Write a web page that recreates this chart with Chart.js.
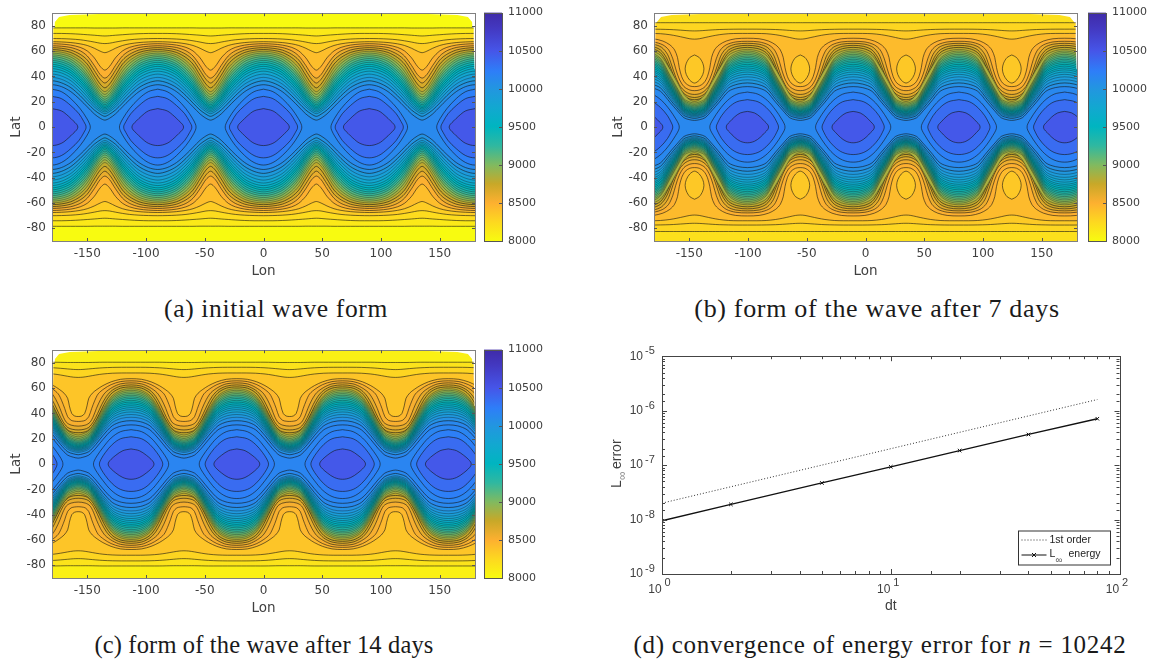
<!DOCTYPE html>
<html>
<head>
<meta charset="utf-8">
<script src="https://cdn.jsdelivr.net/npm/chart.js@4/dist/chart.umd.min.js"></script>
<style>
html,body{margin:0;padding:0;background:#fff;width:1155px;height:664px;overflow:hidden}
canvas{position:absolute}
.cap{position:absolute;transform:translate(-50%,-50%);font-family:"Liberation Serif",serif;color:#1a1a1a;white-space:nowrap}
</style>
</head>
<body>
<div class="cap" style="left:276px;top:309px;font-size:25.5px;letter-spacing:.65px">(a) initial wave form</div>
<div class="cap" style="left:877px;top:309px;font-size:26px;letter-spacing:.68px">(b) form of the wave after 7 days</div>
<div class="cap" style="left:264px;top:645px;font-size:24.5px;letter-spacing:.15px">(c) form of the wave after 14 days</div>
<div class="cap" style="left:880px;top:645px;font-size:25px;letter-spacing:.73px">(d) convergence of energy error for <i>n</i> = 10242</div>
<script>
// ---- axis ticks
const lonTicks = [-150,-100,-50,0,50,100,150];
const latTicks = [-80,-60,-40,-20,0,20,40,60,80];

// ---- colour map of the colour bar
const cmapLevels = [8000,8250,8500,8750,9000,9250,9500,9750,10000,10230,10500,10800,11000];
const cmapColors = ['#f8fb10','#fdd820','#fdb030','#c8a828','#80ba60','#30b8a0','#00b5c0','#12a8d0','#2296e0','#2e7ef8','#4655e8','#4338c0','#3f2ba8'];

// ---- contour sample longitudes, distance from a ridge centre to the next trough
const dxGrid = [0,8,16,24,30,36,41,45];

// ---- panel (a): initial wave form
const aRidge = -90;
const aBase = 8000;
const aLevels = [8130,8225,8320,8415,8505,8595,8685,8775,8865,8955,9045,9135,9225,9315,9405,9495,9585,9675,9765,9855,9945,10035,10125,10220,10350,10480];
const aOpen = [
 [78.4,78.4,78.4,78.4,78.4,78.3,78.3,78.3],
 [74,74,73.8,73.4,73,72.6,72.2,72],
 [70,69.9,69.6,69,68.2,67.2,66.3,66],
 [67.5,67.3,66.8,65.8,64.5,62.3,60,58.8],
 [65.9,65.6,64.8,63,60.2,54.7,48,45],
 [64.3,63.9,62.9,60.3,56.2,48.7,41.5,38.7],
 [62.8,62.3,60.9,57.5,53,44.8,37.8,34.8],
 [61.3,60.7,59,55,49.8,41,34,31],
 [59.9,59.2,57.1,52.5,46.8,37.8,30.8,28],
 [58.5,57.7,55.4,50.3,44,35.2,28.6,25.8],
 [57.1,56.2,53.6,48,41.5,33,26.4,23.8],
 [55.7,54.7,51.9,46,39.6,31,24.5,22],
 [54.2,53.1,50,44,37.6,29,22.8,20.4],
 [52.7,51.5,48.4,42,35.6,27.2,21.3,19],
 [51.2,49.9,46.6,40,33.6,25.4,20,17.7],
 [49.6,48.2,44.8,38.2,31.8,23.8,18.7,16.5],
 [48,46.6,43,36.3,30,22.3,17.5,15.4],
 [46.2,44.8,41.2,34.4,28.2,20.8,16.3,14.3],
 [44.2,42.8,39,32.4,26.2,19.3,15,13.2],
 [41.9,40.4,36.7,30,24,17.6,13.7,12],
 [39.3,37.8,34,27.6,21.6,15.9,12.3,10.6],
 [36.6,35,31.2,24.8,19,13.5,10.2,8.5],
 [33.5,32,28,21.6,16,10.4,7,5.5]
];
const aClosed = [
 [[0,30],[8,28],[16,22.5],[24,14.5],[29.5,7],[32,2.5],[32.6,0]],
 [[0,24.3],[8,22.5],[16,17],[23,10.5],[27,4.5],[28.6,1.8],[29,0]],
 [[0,14.6],[8,12.8],[14,8.6],[18,5],[21,2.2],[22,0]]
];

// ---- panel (b): after 7 days
const bRidge = -100.5;
const bBase = 8190;
const bLevels = [8260,8340,8430,8500,8571,8642,8713,8784,8855,8926,8997,9068,9139,9210,9281,9352,9423,9494,9565,9636,9707,9778,9849,9920,9991,10062,10133,10220,10350,10480];
const bOpen = [
 [82.5,82.5,82.5,82.5,82.5,82.5,82.5,82.5],
 [77.4,77.4,77.3,77.1,76.8,76.4,76.1,76],
 [74,74,73.8,73,72,70.8,69.8,69.5],
 [[0,70.2],[10,69.8],[18,68],[24,65],[28,61],[30.5,55],[32,47],[34,40],[37,35],[41,32.5],[45,32]],
 [[0,67.8],[10,67.3],[18,65],[23,61],[26.5,54],[29,46],[32,38],[36,32],[41,29.3],[45,28.8]],
 [[0,66.2],[10,65.5],[17,63],[22,57.5],[25.5,49],[29,39.5],[33,32],[37,28.2],[41,26.3],[45,25.8]],
 [[0,64.6],[9,63.8],[16,61],[21,55],[25,46],[29,36.5],[33,29.5],[37,25.8],[41,24],[45,23.4]],
 [[0,63],[9,62],[16,58.8],[21,52],[25,43],[29,34],[33,27.2],[37,24],[41,22.2],[45,21.6]],
 [61.4,60.4,56.8,46,36,26,21.5,20.2],
 [60.1,58.9,54.3,41.2,31.3,22.3,19.8,19],
 [58.8,57.6,53.1,40,30.2,21.2,18.7,17.9],
 [57.5,56.3,51.8,38.8,29,20.2,17.7,16.9],
 [56.2,55,50.6,37.7,28,19.2,16.8,16],
 [54.9,53.7,49.3,36.6,27.1,18.4,16,15.2],
 [53.6,52.4,48.1,35.6,26.2,17.5,15.2,14.4],
 [52.3,51.1,46.9,34.5,25.3,16.8,14.5,13.7],
 [51,49.9,45.7,33.5,24.4,16,13.8,13],
 [49.6,48.5,44.4,32.5,23.6,15.4,13.1,12.4],
 [48.2,47.1,43.1,31.5,22.7,14.7,12.5,11.8],
 [46.7,45.6,41.7,30.4,21.8,14.1,11.9,11.2],
 [45.2,44.2,40.4,29.3,20.9,13.4,11.3,10.6],
 [43.5,42.5,38.8,28,20,12.7,10.7,10],
 [41.7,40.7,37.2,26.8,19,12,10,9.4],
 [39.7,38.8,35.4,25.5,18,11.3,9.4,8.8],
 [37.4,36.5,33.3,23.9,16.8,10.4,8.6,8],
 [34.9,34,31,22,15.3,9.2,7.5,6.9],
 [32,31.2,28.3,19.7,13.3,7.4,5.8,5.3]
];
const bClosed = [
 [[0,27.7],[9,26],[17,21],[24,13.5],[29,6.5],[31.4,2.5],[32,0]],
 [[0,21.7],[9,20],[16,15.5],[22,9],[25,4],[26.2,1.6],[26.5,0]],
 [[0,12.4],[6,11.2],[11,8],[15,4.2],[17.4,1.8],[18,0]]
];
const bOvalLevel = 8350;
const bOval = [[0,57],[4,55],[7,50.5],[8,46],[7,41.5],[4,37],[0,34.8]];

// ---- panel (c): after 14 days
const cRidge = -112.7;
const cBase = 8080;
const cLevels = [8170,8270,8370,8450,8530,8610,8690,8770,8850,8930,9010,9090,9170,9250,9330,9410,9490,9570,9650,9730,9810,9890,9970,10050,10130,10160,10220,10350,10480];
const cOpen = [
 [80.5,80.5,80.5,80.5,80.4,80.3,80.3,80.3],
 [76.5,76.5,76.4,76.1,75.7,75.2,74.8,74.7],
 [72,72,71.8,71.2,70.4,69.4,68.7,68.5],
 [[0,67.5],[9,67],[17,65],[24,62],[29,59],[33,56],[36,52],[37.5,46],[39.5,40],[42,38],[45,37.6]],
 [[0,65.8],[9,65.2],[17,62.8],[23,59.5],[28,55.5],[31,50],[33.5,44],[36,37.5],[39,34.6],[42,33.9],[45,33.7]],
 [[0,64.2],[9,63.4],[16,60.6],[22,56.5],[26,51],[29.5,44],[32,38],[35,33],[39,30.8],[45,30]],
 [[0,62.6],[9,61.6],[16,58.4],[21,53.5],[25,47],[28.5,40],[32,33.6],[36,29],[40,27.5],[45,27]],
 [[0,61],[9,60],[16,56.4],[21,50.5],[25,43.5],[29,36],[33,29.8],[37,26.3],[41,25.1],[45,24.8]],
 [59.6,58.5,54.1,43.5,34,26.3,23.9,23],
 [58.3,57.2,52.8,42.1,32.5,24.8,22.4,21.5],
 [57,55.9,51.5,40.8,31.2,23.5,21.1,20.2],
 [55.7,54.6,50.2,39.6,30,22.3,19.9,19],
 [54.4,53.3,48.9,38.4,28.9,21.3,18.9,18],
 [53.1,52,47.7,37.2,27.8,20.2,17.9,17],
 [51.8,50.7,46.4,36,26.8,19.3,17,16.1],
 [50.4,49.3,45.1,35,25.8,18.5,16.2,15.3],
 [49,48,43.8,33.8,24.9,17.6,15.4,14.5],
 [47.6,46.6,42.5,32.7,24,16.8,14.6,13.8],
 [46.1,45.1,41.1,31.6,23,16.1,13.9,13.1],
 [44.6,43.6,39.8,30.4,22.1,15.3,13.2,12.4],
 [43,42.1,38.3,29.2,21.1,14.5,12.5,11.7],
 [41.2,40.3,36.7,27.9,20.1,13.7,11.8,11],
 [39.2,38.3,34.9,26.4,18.9,12.8,10.9,10.2],
 [37,36.2,32.8,24.8,17.5,11.7,9.9,9.2],
 [34.3,33.5,30.3,22.5,15.5,9.8,8.1,7.4],
 [31,30.2,27.1,19.4,12.6,7.1,5.4,4.7]
];
const cClosed = [
 [[0,27.2],[9,25.6],[17,20.6],[24,13],[29,6.5],[31.4,2.5],[32,0]],
 [[0,21.6],[9,20],[16,15.5],[22,9],[25.5,4],[26.7,1.6],[27,0]],
 [[0,12],[7,10.6],[13,7],[17,3.8],[19,1.6],[19.5,0]]
];

// ---- outline of the plotted field (rounded top corners) and blank edge strips
const fieldOutline = [[-180,-90],[-180,40],[-178.4,70],[-177.5,83],[-174,87],[-165,88.5],[-140,89.3],[-120,90],[120,90],[140,89.3],[165,88.5],[174,87],[177.5,83],[178.4,70],[180,40],[180,-90]];
const blankLeft = [[-182,46],[-179.6,46],[-178.9,70],[-178.9,91],[-182,91]];
const blankRight = [[182,46],[179.6,46],[178.9,70],[178.9,91],[182,91]];

// ---- panel (d): convergence
const dtValues = [1,2,5,10,20,40,80];
const firstOrder = [2e-8,4e-8,1e-7,2e-7,4e-7,8e-7,1.6e-6];
const energyError = [9.5e-9,1.9e-8,4.7e-8,9.3e-8,1.85e-7,3.65e-7,7.1e-7];
const colorbarRange = [8000,11000];
const colorbarTicks = [8000,8500,9000,9500,10000,10500,11000];

// ================= drawing helpers =================
const TXT = '#404040', BOX = '#808080', LINE = 'rgba(20,20,20,0.85)', LINE_DENSE = 'rgba(15,25,25,0.72)';
const SANS = '"DejaVu Sans",sans-serif', ARIAL = '"Liberation Sans",Arial,sans-serif';
Chart.defaults.animation = false;
Chart.defaults.events = [];
Chart.defaults.plugins.legend.display = false;
Chart.defaults.plugins.tooltip.enabled = false;

function hex(c){return [1,3,5].map(i=>parseInt(c.substr(i,2),16));}
function cmap(v){
  let i=0; while(i<cmapLevels.length-2 && v>cmapLevels[i+1]) i++;
  const t=Math.min(1,Math.max(0,(v-cmapLevels[i])/(cmapLevels[i+1]-cmapLevels[i])));
  const a=hex(cmapColors[i]),b=hex(cmapColors[i+1]);
  return 'rgb('+a.map((x,k)=>Math.round(x+(b[k]-x)*t)).join(',')+')';
}
function addCanvas(l,t,w,h){
  const c=document.createElement('canvas');
  c.width=w;c.height=h;c.style.left=l+'px';c.style.top=t+'px';c.style.width=w+'px';c.style.height=h+'px';
  document.body.appendChild(c);return c.getContext('2d');
}
function rowPairs(row){return Array.isArray(row[0])?row:row.map((v,i)=>[dxGrid[i],v]);}
function wavePath(ridge,row){
  const p=rowPairs(row),out=[];
  for(let k=-2;k<=3;k++){
    const c=ridge+90*k;
    for(let i=p.length-1;i>=0;i--) out.push({x:c-p[i][0],y:p[i][1]});
    for(let i=1;i<p.length-1;i++) out.push({x:c+p[i][0],y:p[i][1]});
    if(k===3) out.push({x:c+45,y:p[p.length-1][1]});
  }
  return out;
}
function poly(data,color,opts){
  return Object.assign({data,backgroundColor:color,borderColor:LINE,borderWidth:.7,fill:'shape',pointRadius:0,tension:.3},opts||{});
}
function buildField(ridge,base,levels,open,closed,oval,ovalLevel){
  const ds=[];
  ds.push(poly(fieldOutline.map(p=>({x:p[0],y:p[1]})),cmap(base),{borderWidth:0,tension:0}));
  open.forEach((row,i)=>{
    const n=wavePath(ridge,row);
    const s=n.slice().reverse().map(p=>({x:p.x,y:-p.y}));
    const dense=i>=8&&i<open.length-2;
    ds.push(poly(n.concat(s),cmap(levels[i]),dense?{borderWidth:.5,borderColor:LINE_DENSE}:{}));
  });
  closed.forEach((q,j)=>{
    const col=cmap(levels[open.length+j]);
    for(let k=-2;k<=3;k++){
      const c=ridge+90*k,pts=[{x:c,y:q[0][1]}];
      for(let i=1;i<q.length;i++) pts.push({x:c+q[i][0],y:q[i][1]});
      for(let i=q.length-2;i>=0;i--) pts.push({x:c+q[i][0],y:-q[i][1]});
      for(let i=1;i<q.length;i++) pts.push({x:c-q[i][0],y:-q[i][1]});
      for(let i=q.length-2;i>=0;i--) pts.push({x:c-q[i][0],y:q[i][1]});
      ds.push(poly(pts,col,{tension:.35}));
    }
  });
  if(oval){
    for(let k=-2;k<=3;k++) for(const sg of [1,-1]){
      const c=ridge+45+90*k,pts=[];
      for(const o of oval) pts.push({x:c+o[0],y:sg*o[1]});
      for(let i=oval.length-2;i>=0;i--) pts.push({x:c-oval[i][0],y:sg*oval[i][1]});
      ds.push(poly(pts,cmap(ovalLevel)));
    }
  }
  ds.push(poly(blankLeft.map(p=>({x:p[0],y:p[1]})),'#fff',{borderWidth:0,tension:0}));
  ds.push(poly(blankRight.map(p=>({x:p[0],y:p[1]})),'#fff',{borderWidth:0,tension:0}));
  ds.forEach((d,i)=>d.order=-i);
  return ds;
}
function line(ctx,x1,y1,x2,y2){ctx.beginPath();ctx.moveTo(x1,y1);ctx.lineTo(x2,y2);ctx.stroke();}
const fieldFrame={id:'fieldFrame',afterDatasetsDraw(chart){
  const {ctx,chartArea:a,scales:{x,y}}=chart;ctx.save();
  ctx.strokeStyle=BOX;ctx.lineWidth=1;
  ctx.strokeRect(Math.round(a.left)+.5,Math.round(a.top)+.5,Math.round(a.width),Math.round(a.height));
  ctx.strokeStyle='#555';
  lonTicks.forEach(v=>{const p=Math.round(x.getPixelForValue(v))+.5;line(ctx,p,a.top,p,a.top+3);line(ctx,p,a.bottom,p,a.bottom-3);});
  latTicks.forEach(v=>{const p=Math.round(y.getPixelForValue(v))+.5;line(ctx,a.left,p,a.left+3,p);line(ctx,a.right,p,a.right-3,p);});
  ctx.restore();
}};
function fieldChart(left,top,ridge,base,levels,open,closed,oval,ovalLevel){
  new Chart(addCanvas(left,top,480,290),{
    type:'line',
    data:{datasets:buildField(ridge,base,levels,open,closed,oval,ovalLevel)},
    options:{responsive:false,parsing:true,
      layout:{padding:{left:0,top:11,right:5,bottom:0}},
      scales:{
        x:{type:'linear',min:-180,max:180,grid:{display:false,drawTicks:false},border:{display:false},
           afterBuildTicks:s=>{s.ticks=lonTicks.map(v=>({value:v}));},
           afterFit:s=>{s.height=49;},
           ticks:{color:TXT,font:{family:SANS,size:12},padding:6,maxRotation:0,autoSkip:false,callback:v=>String(v)},
           title:{display:true,text:'Lon',color:TXT,font:{family:SANS,size:13.5},padding:{top:0,bottom:10}}},
        y:{type:'linear',min:-90,max:90,grid:{display:false,drawTicks:false},border:{display:false},
           afterBuildTicks:s=>{s.ticks=latTicks.map(v=>({value:v}));},
           afterFit:s=>{s.width=52;},
           ticks:{color:TXT,font:{family:SANS,size:12},padding:6,autoSkip:false,callback:v=>String(v)},
           title:{display:true,text:'Lat',color:TXT,font:{family:SANS,size:13.5},padding:{top:8,bottom:0}}}
      }},
    plugins:[fieldFrame]
  });
}
function colorbar(left,top){
  new Chart(addCanvas(left,top,75,256),{
    type:'bar',
    data:{labels:[''],datasets:[{data:[colorbarRange],barPercentage:1,categoryPercentage:1,borderWidth:0,
      backgroundColor(c){
        const a=c.chart.chartArea; if(!a) return cmapColors[0];
        const g=c.chart.ctx.createLinearGradient(0,a.bottom,0,a.top);
        cmapLevels.forEach((v,i)=>g.addColorStop((v-colorbarRange[0])/(colorbarRange[1]-colorbarRange[0]),cmapColors[i]));
        return g;
      }}]},
    options:{responsive:false,
      layout:{padding:{left:4,top:11,right:0,bottom:15}},
      scales:{
        x:{display:false},
        y:{type:'linear',position:'right',min:8000,max:11000,grid:{display:false,drawTicks:false},border:{display:false},
           afterBuildTicks:s=>{s.ticks=colorbarTicks.map(v=>({value:v}));},
           afterFit:s=>{s.width=53;},
           ticks:{color:TXT,font:{family:SANS,size:11},padding:6,autoSkip:false,callback:v=>String(v)}}
      }},
    plugins:[{id:'cbFrame',afterDatasetsDraw(chart){
      const {ctx,chartArea:a,scales:{y}}=chart;ctx.save();ctx.strokeStyle='#555';ctx.lineWidth=1;
      ctx.strokeRect(Math.round(a.left)+.5,Math.round(a.top)+.5,Math.round(a.width),Math.round(a.height));
      colorbarTicks.forEach(v=>{const p=Math.round(y.getPixelForValue(v))+.5;line(ctx,a.right,p,a.right-3,p);});
      ctx.restore();
    }}]
  });
}

fieldChart(0,0,aRidge,aBase,aLevels,aOpen,aClosed);
colorbar(480,0);
fieldChart(602,0,bRidge,bBase,bLevels,bOpen,bClosed,bOval,bOvalLevel);
colorbar(1084,0);
fieldChart(0,337,cRidge,cBase,cLevels,cOpen,cClosed);
colorbar(480,337);

// ---- panel (d)
const isDecade=v=>Math.abs(Math.log10(v)-Math.round(Math.log10(v)))<1e-6;
new Chart(addCanvas(590,330,560,300),{
  type:'line',
  data:{datasets:[
    {label:'1st order',data:dtValues.map((x,i)=>({x,y:firstOrder[i]})),borderColor:'#333',borderWidth:1,borderDash:[1,2],pointRadius:0,fill:false},
    {label:'energy',data:dtValues.map((x,i)=>({x,y:energyError[i]})),borderColor:'#111',borderWidth:1.3,pointStyle:'crossRot',pointRadius:2.5,pointBorderColor:'#111',pointBorderWidth:1,fill:false}
  ]},
  options:{responsive:false,
    layout:{padding:{left:0,top:19.5,right:30.5,bottom:0}},
    scales:{
      x:{type:'logarithmic',min:1,max:100,grid:{display:false,drawTicks:false},border:{display:false},
         afterFit:s=>{s.height=56;},
         ticks:{color:TXT,font:{family:ARIAL,size:12},padding:8,labelOffset:-7,maxRotation:0,autoSkip:false,callback:v=>isDecade(v)?'10':''},
         title:{display:true,text:'dt',color:TXT,font:{family:ARIAL,size:14},padding:{top:0,bottom:15}}},
      y:{type:'logarithmic',min:1e-9,max:1e-5,grid:{display:false,drawTicks:false},border:{display:false},
         afterFit:s=>{s.width=72;},
         ticks:{color:TXT,font:{family:ARIAL,size:12},padding:19,autoSkip:false,callback:v=>isDecade(v)?'10':''}}
    }},
  plugins:[{id:'logFrame',afterDatasetsDraw(chart){
    const {ctx,chartArea:a,scales:{x,y}}=chart;ctx.save();ctx.strokeStyle='#444';ctx.lineWidth=1;
    ctx.strokeRect(Math.round(a.left)+.5,Math.round(a.top)+.5,Math.round(a.width),Math.round(a.height));
    x.ticks.forEach(t=>{const p=Math.round(x.getPixelForValue(t.value))+.5,L=isDecade(t.value)?5:3;line(ctx,p,a.bottom,p,a.bottom-L);line(ctx,p,a.top,p,a.top+L);});
    y.ticks.forEach(t=>{const p=Math.round(y.getPixelForValue(t.value))+.5,L=isDecade(t.value)?5:3;line(ctx,a.left,p,a.left+L,p);line(ctx,a.right,p,a.right-L,p);});
    // decade exponents
    ctx.fillStyle=TXT;ctx.font='11px '+ARIAL;ctx.textBaseline='middle';ctx.textAlign='left';
    x.ticks.filter(t=>isDecade(t.value)).forEach(t=>ctx.fillText(String(Math.round(Math.log10(t.value))),x.getPixelForValue(t.value)+2.5,a.bottom+9));
    y.ticks.filter(t=>isDecade(t.value)).forEach(t=>ctx.fillText(String(Math.round(Math.log10(t.value))),a.left-17,y.getPixelForValue(t.value)-5));
    // y axis title with subscript
    ctx.save();ctx.translate(30.5,158);ctx.rotate(-Math.PI/2);ctx.textBaseline='alphabetic';
    ctx.font='14px '+ARIAL;ctx.fillStyle=TXT;ctx.fillText('L',0,0);
    ctx.font='12px '+ARIAL;ctx.fillStyle='#888';ctx.fillText('∞',8,5);
    ctx.font='14px '+ARIAL;ctx.fillStyle=TXT;ctx.fillText('error',19,0);
    ctx.restore();
    // legend box
    const lx=1018.5-590,ly=531-330,lw=92,lh=34;
    ctx.fillStyle='#fff';ctx.fillRect(lx,ly,lw,lh);ctx.strokeStyle='#333';ctx.strokeRect(lx,ly,lw,lh);
    const d=chart.data.datasets;
    ctx.strokeStyle='#333';ctx.setLineDash([1,2]);line(ctx,lx+3,ly+9,lx+28,ly+9);ctx.setLineDash([]);
    ctx.strokeStyle='#111';line(ctx,lx+3,ly+24,lx+28,ly+24);
    line(ctx,lx+13.5,ly+22,lx+17.5,ly+26);line(ctx,lx+13.5,ly+26,lx+17.5,ly+22);
    ctx.fillStyle='#222';ctx.font='10.5px '+ARIAL;
    ctx.fillText(d[0].label,lx+31,ly+9);
    ctx.fillText('L',lx+31,ly+23);
    ctx.font='9.5px '+ARIAL;ctx.fillStyle='#555';ctx.fillText('∞',lx+37,ly+29);
    ctx.fillStyle='#222';ctx.font='10.5px '+ARIAL;ctx.fillText(d[1].label,lx+50,ly+23);
    ctx.restore();
  }}]
});
</script>
</body>
</html>
